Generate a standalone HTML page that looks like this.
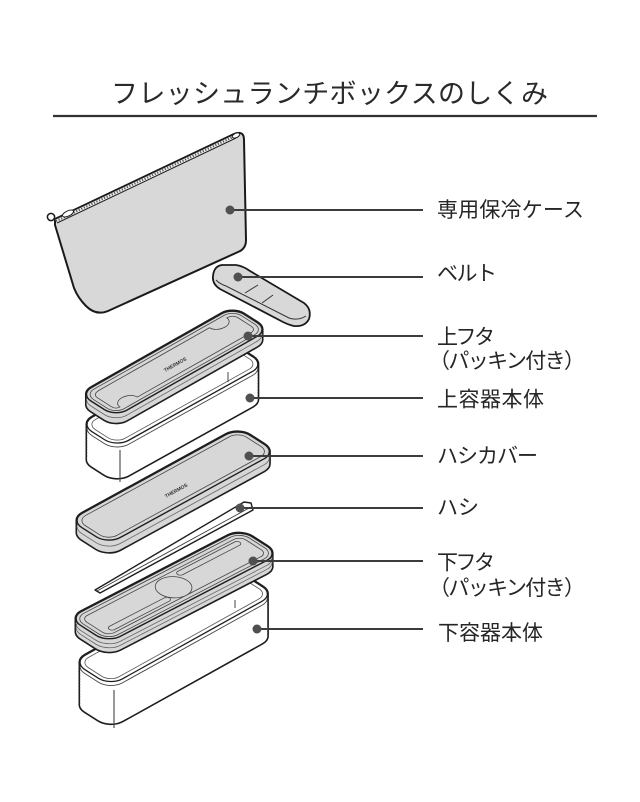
<!DOCTYPE html>
<html><head><meta charset="utf-8">
<style>html,body{margin:0;padding:0;background:#fff;}svg{display:block;}</style>
</head><body>
<svg width="640" height="802" viewBox="0 0 640 802" xmlns="http://www.w3.org/2000/svg" font-family="'Liberation Sans','Noto Sans CJK JP',sans-serif">
<defs>
<rect id="ul" width="176" height="42" rx="13" transform="matrix(0.87,-0.493,0.843,0.539,80,394)" vector-effect="non-scaling-stroke"/>
<rect id="uc" width="170" height="43" rx="14" transform="matrix(0.874,-0.486,0.843,0.539,80,424)" vector-effect="non-scaling-stroke"/>
<rect id="hc" width="192" height="45" rx="14" transform="matrix(0.877,-0.48,0.843,0.539,70,520)" vector-effect="non-scaling-stroke"/>
<rect id="ll" width="193" height="46" rx="14" transform="matrix(0.888,-0.46,0.843,0.539,69,618)" vector-effect="non-scaling-stroke"/>
<rect id="lc" width="188" height="44" rx="14" transform="matrix(0.874,-0.486,0.843,0.539,73,662)" vector-effect="non-scaling-stroke"/>
</defs>

<!-- Title -->
<text x="111" y="103" font-size="27" textLength="437" lengthAdjust="spacing" fill="#2a2a2a">フレッシュランチボックスのしくみ</text>
<line x1="53" y1="116" x2="597" y2="116" stroke="#333" stroke-width="2.2"/>

<!-- Bag -->
<path d="M55,219 L234,134 Q244,130 244,140 L246,240 Q246,249 238,252 L108,311 Q96,316 86,306 Q78,298 74,288 L55,225 Z" fill="#d8d8d8" stroke="#1a1a1a" stroke-width="2" stroke-linejoin="round"/>
<polygon points="55,219 234,134 236,138 57,223" fill="#efefef"/>
<line x1="56" y1="221" x2="235" y2="136" stroke="#555" stroke-width="2.2" stroke-dasharray="1.2 1.6"/>
<line x1="57" y1="223" x2="236" y2="138" stroke="#1e1e1e" stroke-width="1"/>
<line x1="55" y1="219" x2="234" y2="134" stroke="#1a1a1a" stroke-width="1.6"/>
<ellipse cx="68" cy="213.5" rx="6" ry="2.6" transform="rotate(-25 68 213.5)" fill="#fff" stroke="#1e1e1e" stroke-width="1"/>
<ellipse cx="236" cy="135.5" rx="4" ry="2.2" transform="rotate(-25 236 135.5)" fill="#fff" stroke="#1e1e1e" stroke-width="1"/>
<circle cx="51" cy="217" r="3.6" fill="#fff" stroke="#1a1a1a" stroke-width="1.5"/>

<!-- Belt -->
<path d="M222,265 L236,265 Q243,266 250,271 L304,303 Q312,309 309,319 Q305,327 294,326 Q289,325 283,322 L220,289 Q212,284 213,276 Q214,266 222,265 Z" fill="#d8d8d8" stroke="#1a1a1a" stroke-width="1.8" stroke-linejoin="round"/>
<path d="M216,280 Q220,284 226,286 L289,318 Q298,321 306,316" fill="none" stroke="#333" stroke-width="1"/>
<line x1="245" y1="293" x2="258" y2="285" stroke="#333" stroke-width="1"/>
<line x1="262" y1="303" x2="273" y2="295" stroke="#333" stroke-width="1"/>

<!-- Upper container -->
<g fill="none" stroke="#1e1e1e" stroke-width="3.2">
<use href="#uc" y="0"/><use href="#uc" y="3"/><use href="#uc" y="6"/><use href="#uc" y="9"/><use href="#uc" y="12"/><use href="#uc" y="15"/><use href="#uc" y="18"/><use href="#uc" y="21"/><use href="#uc" y="24"/><use href="#uc" y="27"/><use href="#uc" y="30"/><use href="#uc" y="33"/><use href="#uc" y="35"/>
</g>
<g fill="#fff" stroke="none">
<use href="#uc" y="0"/><use href="#uc" y="3"/><use href="#uc" y="6"/><use href="#uc" y="9"/><use href="#uc" y="12"/><use href="#uc" y="15"/><use href="#uc" y="18"/><use href="#uc" y="21"/><use href="#uc" y="24"/><use href="#uc" y="27"/><use href="#uc" y="30"/><use href="#uc" y="33"/><use href="#uc" y="35"/>
</g>
<use href="#uc" y="4" fill="none" stroke="#444" stroke-width="0.9"/>
<use href="#uc" fill="#fff" stroke="#1e1e1e" stroke-width="1.3"/>
<rect x="4" y="4" width="162" height="35" rx="10" transform="matrix(0.874,-0.486,0.843,0.539,80,424)" fill="none" stroke="#555" stroke-width="0.8" vector-effect="non-scaling-stroke"/>
<line x1="120" y1="450" x2="120" y2="482" stroke="#444" stroke-width="1.1"/>
<line x1="228" y1="372" x2="228" y2="382" stroke="#444" stroke-width="1"/>

<!-- Upper lid -->
<g fill="none" stroke="#1e1e1e" stroke-width="3.2">
<use href="#ul" y="0"/><use href="#ul" y="2"/><use href="#ul" y="4"/><use href="#ul" y="6"/><use href="#ul" y="8"/><use href="#ul" y="10"/>
</g>
<g fill="#d7d7d7" stroke="none">
<use href="#ul" y="0"/><use href="#ul" y="2"/><use href="#ul" y="4"/><use href="#ul" y="6"/><use href="#ul" y="8"/><use href="#ul" y="10"/>
</g>
<use href="#ul" y="5" fill="none" stroke="#666" stroke-width="0.8"/>
<use href="#ul" fill="#d7d7d7" stroke="#1e1e1e" stroke-width="1.4"/>
<g transform="matrix(0.87,-0.493,0.843,0.539,80,394)" fill="none" stroke="#444" stroke-width="0.8">
<rect x="3" y="3" width="170" height="36" rx="10" vector-effect="non-scaling-stroke"/>
<path d="M16,7 L142,7 A10 8 0 0 0 162,7 Q169,7 169,14 L169,28 Q169,35 162,35 L32,35 A10 8 0 0 0 12,35 Q7,35 7,30 L7,14 Q7,7 16,7 Z" vector-effect="non-scaling-stroke"/>
</g>
<text x="0" y="0" transform="translate(176,366) rotate(-29.5)" font-size="5" font-weight="bold" text-anchor="middle" fill="#333">THERMOS</text>

<!-- Hashi cover -->
<g fill="none" stroke="#1e1e1e" stroke-width="3.2">
<use href="#hc" y="0"/><use href="#hc" y="2"/><use href="#hc" y="4"/><use href="#hc" y="6"/><use href="#hc" y="8"/><use href="#hc" y="10"/><use href="#hc" y="12"/>
</g>
<g fill="#d7d7d7" stroke="none">
<use href="#hc" y="0"/><use href="#hc" y="2"/><use href="#hc" y="4"/><use href="#hc" y="6"/><use href="#hc" y="8"/><use href="#hc" y="10"/><use href="#hc" y="12"/>
</g>
<use href="#hc" y="6" fill="none" stroke="#666" stroke-width="0.8"/>
<use href="#hc" fill="#d7d7d7" stroke="#1e1e1e" stroke-width="1.4"/>
<rect x="4" y="4" width="184" height="37" rx="10" transform="matrix(0.877,-0.48,0.843,0.539,70,520)" fill="none" stroke="#444" stroke-width="0.8" vector-effect="non-scaling-stroke"/>
<text x="0" y="0" transform="translate(177,492) rotate(-28.7)" font-size="5" font-weight="bold" text-anchor="middle" fill="#333">THERMOS</text>

<!-- Hashi -->
<path d="M95,590 L244,502 L251,503 L253,510 L100,593 Z" fill="#fff" stroke="#1e1e1e" stroke-width="1.4" stroke-linejoin="round"/>
<line x1="97" y1="591" x2="251" y2="507" stroke="#333" stroke-width="0.8"/>

<!-- Lower container -->
<g fill="none" stroke="#1e1e1e" stroke-width="3.2">
<use href="#lc" y="0"/><use href="#lc" y="3"/><use href="#lc" y="6"/><use href="#lc" y="9"/><use href="#lc" y="12"/><use href="#lc" y="15"/><use href="#lc" y="18"/><use href="#lc" y="21"/><use href="#lc" y="24"/><use href="#lc" y="27"/><use href="#lc" y="30"/><use href="#lc" y="33"/><use href="#lc" y="36"/><use href="#lc" y="39"/><use href="#lc" y="42"/>
</g>
<g fill="#fff" stroke="none">
<use href="#lc" y="0"/><use href="#lc" y="3"/><use href="#lc" y="6"/><use href="#lc" y="9"/><use href="#lc" y="12"/><use href="#lc" y="15"/><use href="#lc" y="18"/><use href="#lc" y="21"/><use href="#lc" y="24"/><use href="#lc" y="27"/><use href="#lc" y="30"/><use href="#lc" y="33"/><use href="#lc" y="36"/><use href="#lc" y="39"/><use href="#lc" y="42"/>
</g>
<use href="#lc" y="4" fill="none" stroke="#444" stroke-width="0.9"/>
<use href="#lc" fill="#fff" stroke="#1e1e1e" stroke-width="1.3"/>
<rect x="4" y="4" width="180" height="36" rx="10" transform="matrix(0.874,-0.486,0.843,0.539,73,662)" fill="none" stroke="#555" stroke-width="0.8" vector-effect="non-scaling-stroke"/>
<line x1="114" y1="690" x2="114" y2="728" stroke="#444" stroke-width="1.1"/>
<line x1="235" y1="600" x2="235" y2="608" stroke="#444" stroke-width="1"/>

<!-- Lower lid -->
<g fill="none" stroke="#1e1e1e" stroke-width="3.2">
<use href="#ll" y="0"/><use href="#ll" y="2"/><use href="#ll" y="4"/><use href="#ll" y="6"/><use href="#ll" y="8"/><use href="#ll" y="10"/><use href="#ll" y="12"/><use href="#ll" y="13"/>
</g>
<g fill="#d7d7d7" stroke="none">
<use href="#ll" y="0"/><use href="#ll" y="2"/><use href="#ll" y="4"/><use href="#ll" y="6"/><use href="#ll" y="8"/><use href="#ll" y="10"/><use href="#ll" y="12"/><use href="#ll" y="13"/>
</g>
<use href="#ll" y="5" fill="none" stroke="#666" stroke-width="0.8"/>
<use href="#ll" y="9" fill="none" stroke="#666" stroke-width="0.8"/>
<use href="#ll" fill="#d7d7d7" stroke="#1e1e1e" stroke-width="1.4"/>
<g transform="matrix(0.888,-0.46,0.843,0.539,69,618)" fill="none" stroke="#444" stroke-width="0.8">
<rect x="3" y="3" width="187" height="40" rx="11" vector-effect="non-scaling-stroke"/>
<rect x="7" y="7" width="179" height="32" rx="7" vector-effect="non-scaling-stroke"/>
<rect x="110" y="10" width="70" height="6" rx="3" vector-effect="non-scaling-stroke"/>
<rect x="14" y="30" width="68" height="6" rx="3" vector-effect="non-scaling-stroke"/>
<circle cx="95" cy="24" r="15" fill="#d7d7d7" vector-effect="non-scaling-stroke"/>
</g>

<!-- Leader lines and dots -->
<g stroke="#3c3c3c" stroke-width="2">
<line x1="230" y1="210" x2="423" y2="210"/>
<line x1="238" y1="277" x2="423" y2="277"/>
<line x1="248" y1="336" x2="423" y2="336"/>
<line x1="250" y1="398" x2="423" y2="398"/>
<line x1="249" y1="456" x2="423" y2="456"/>
<line x1="240" y1="508" x2="423" y2="508"/>
<line x1="253" y1="561" x2="423" y2="561"/>
<line x1="257" y1="629" x2="423" y2="629"/>
</g>
<g fill="#505050">
<circle cx="230" cy="210" r="4.5"/>
<circle cx="238" cy="277" r="4.5"/>
<circle cx="248" cy="336" r="4.5"/>
<circle cx="250" cy="398" r="4.5"/>
<circle cx="249" cy="456" r="4.5"/>
<circle cx="240" cy="508" r="4.5"/>
<circle cx="253" cy="561" r="4.5"/>
<circle cx="257" cy="629" r="4.5"/>
</g>

<!-- Labels -->
<g fill="#262626" font-size="21">
<text x="437" y="217" textLength="147" lengthAdjust="spacing">専用保冷ケース</text>
<text x="437" y="280.5" textLength="60" lengthAdjust="spacing">ベルト</text>
<text x="437" y="344" textLength="58" lengthAdjust="spacing">上フタ</text>
<text x="429" y="368" textLength="156" lengthAdjust="spacing">（パッキン付き）</text>
<text x="437" y="406.5" textLength="107" lengthAdjust="spacing">上容器本体</text>
<text x="437" y="463" textLength="101" lengthAdjust="spacing">ハシカバー</text>
<text x="437" y="514.5" textLength="42" lengthAdjust="spacing">ハシ</text>
<text x="437" y="569.5" textLength="58" lengthAdjust="spacing">下フタ</text>
<text x="429" y="595" textLength="156" lengthAdjust="spacing">（パッキン付き）</text>
<text x="438" y="640" textLength="105" lengthAdjust="spacing">下容器本体</text>
</g>
</svg>
</body></html>
